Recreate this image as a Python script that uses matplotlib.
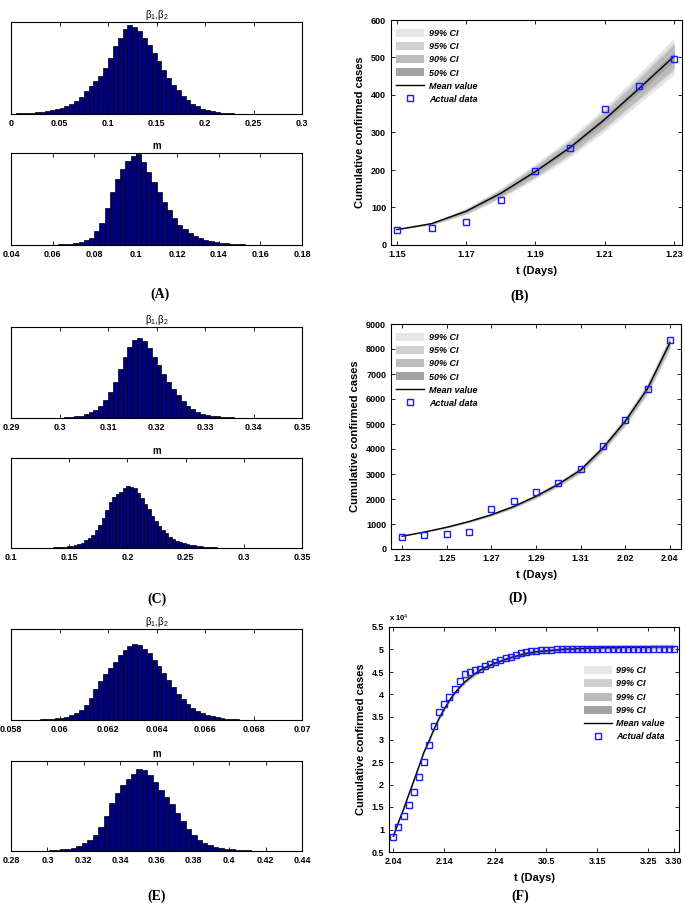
import numpy as np
import matplotlib
matplotlib.use("Agg")
import matplotlib.pyplot as plt
from matplotlib.patches import Patch
from matplotlib.lines import Line2D
from matplotlib.ticker import FormatStrFormatter

plt.rcParams['font.family'] = ['Liberation Sans', 'DejaVu Sans']
plt.rcParams['mathtext.fontset'] = 'custom'
plt.rcParams['mathtext.rm'] = 'Liberation Sans'
plt.rcParams['mathtext.it'] = 'Liberation Sans:italic'
plt.rcParams['mathtext.bf'] = 'Liberation Sans:bold'

# ---- posterior histograms (relative bin heights) ----
a_beta_range = (0.0, 0.24)
a_beta_counts = [0.5, 0.7, 0.9, 1.2, 1.5, 2, 2.5, 3.2, 4, 5,
                 6.5, 8.5, 11, 14, 19, 25, 31, 36, 42, 50,
                 62, 75, 84, 93, 98, 95, 91, 84, 76, 67,
                 58, 48, 39, 32, 26, 20, 15, 11, 8.5, 6,
                 4.5, 3.2, 2.3, 1.6, 1.1, 0.7, 0.5, 0.3]
a_m_range = (0.055, 0.165)
a_m_counts = [0.2, 0.3, 0.4, 0.6, 0.9, 1.5, 2.3, 3.5, 5.5, 8,
              15, 24, 40, 57, 71, 82, 90, 96, 98, 89,
              79, 68, 57, 46, 38, 29, 22, 17, 13, 10,
              7.5, 5.5, 4.2, 3.2, 2.4, 1.8, 1.3, 1, 0.7, 0.5,
              0.4, 0.3, 0.2, 0.1]
c_beta_range = (0.300, 0.340)
c_beta_counts = [0.5, 0.8, 1.2, 2, 3, 4.5, 7, 10, 15, 22,
                 32, 45, 60, 75, 88, 96, 99, 95, 86, 76,
                 65, 55, 45, 36, 28, 21, 15, 11, 8, 5.5,
                 4, 3, 2.2, 1.6, 1.2, 0.9, 0.6, 0.4, 0.3, 0.2]
c_m_range = (0.13, 0.289)
c_m_counts = [0.4, 0.6, 0.8, 1.1, 1.5, 2, 2.6, 3.4, 4.5, 6,
              8.5, 12, 16, 21, 28, 36, 47, 60, 72, 80,
              85, 89, 94, 98, 97, 94, 87, 79, 70, 61,
              51, 43, 35, 28, 23, 18, 14.5, 11.5, 9.5, 8,
              6.5, 5, 4, 3.2, 2.5, 2, 1.5, 1.2, 0.9, 0.7,
              0.5, 0.4, 0.3]
e_beta_range = (0.0588, 0.0684)
e_beta_counts = [0.3, 0.5, 0.7, 1, 1.5, 2.2, 3.2, 4.5, 6.5, 9,
                 13, 19, 28, 40, 50, 59, 67, 75, 84, 90,
                 95, 98, 97, 92, 86, 78, 70, 60, 51, 42,
                 34, 27, 21, 16, 12, 9, 6.5, 5, 3.5, 2.5,
                 1.8, 1.2, 0.8, 0.5, 0.4, 0.3, 0.2, 0.1]
e_m_range = (0.295, 0.424)
e_m_counts = [0.3, 0.5, 0.8, 1.2, 1.8, 2.6, 4, 6, 9, 13,
              19, 29, 42, 57, 70, 79, 86, 92, 98, 97,
              91, 82, 73, 65, 56, 46, 36, 26, 19, 13,
              9.5, 7, 5, 3.5, 2.5, 1.8, 1.2, 0.9, 0.6, 0.4,
              0.3, 0.2, 0.1]

# ---- fitted curves ----
ci_labels = ['99% CI', '95% CI', '90% CI', '50% CI']
ci_z = [2.576, 1.960, 1.645, 0.674]
ci_colors = ['#e6e6e6', '#d0d0d0', '#bbbbbb', '#a3a3a3']

b_dates = ['1.15', '1.16', '1.17', '1.18', '1.19', '1.20', '1.21', '1.22', '1.23']
b_actual = [41, 45, 62, 121, 198, 258, 363, 425, 495]
b_mean = [41, 57, 90, 138, 196, 260, 335, 418, 503]
b_sigma = [0, 1.5, 3.5, 5.5, 8, 10, 12.5, 15.5, 19]

d_dates = ['1.23', '1.24', '1.25', '1.26', '1.27', '1.28', '1.29', '1.30',
           '1.31', '2.01', '2.02', '2.03', '2.04']
d_actual = [495, 572, 618, 698, 1590, 1905, 2261, 2639, 3215, 4109, 5142, 6384, 8351]
d_mean = [510, 680, 870, 1100, 1370, 1700, 2110, 2590, 3160, 4040, 5110, 6420, 8250]
d_sigma = [3, 8, 13, 18, 24, 30, 38, 46, 55, 66, 78, 95, 115]

f_tick_days = [0, 10, 20, 30, 40, 50, 55]
f_tick_labels = ['2.04', '2.14', '2.24', '30.5', '3.15', '3.25', '3.30']
f_actual = [0.83, 1.05, 1.29, 1.55, 1.83, 2.16, 2.50, 2.88, 3.30, 3.61,
            3.79, 3.95, 4.12, 4.29, 4.45, 4.51, 4.54, 4.57, 4.63, 4.68,
            4.72, 4.76, 4.80, 4.84, 4.87, 4.93, 4.94, 4.96, 4.97, 4.98,
            4.99, 4.99, 5.00, 5.00, 5.00, 5.00, 5.00, 5.00, 5.00, 5.00,
            5.00, 5.00, 5.00, 5.00, 5.00, 5.00, 5.00, 5.00, 5.00, 5.00,
            5.00, 5.00, 5.00, 5.00, 5.00, 5.00]
f_mean = [0.85, 1.16, 1.45, 1.77, 2.08, 2.40, 2.72, 2.97, 3.24, 3.48,
          3.68, 3.87, 4.03, 4.16, 4.28, 4.37, 4.46, 4.54, 4.60, 4.65,
          4.70, 4.74, 4.78, 4.82, 4.85, 4.88, 4.91, 4.93, 4.95, 4.96,
          4.97, 4.98, 4.99, 5.00, 5.01, 5.01, 5.02, 5.02, 5.03, 5.03,
          5.03, 5.04, 5.04, 5.04, 5.04, 5.05, 5.05, 5.05, 5.05, 5.05,
          5.05, 5.06, 5.06, 5.06, 5.06, 5.06]
f_sigma = [0.005, 0.008, 0.010, 0.012, 0.013, 0.014, 0.015, 0.016, 0.017, 0.018,
           0.018, 0.019, 0.019, 0.020, 0.020, 0.020, 0.021, 0.021, 0.021, 0.021,
           0.021, 0.022, 0.022, 0.022, 0.022, 0.023, 0.023, 0.023, 0.023, 0.023,
           0.023, 0.024, 0.024, 0.024, 0.024, 0.024, 0.024, 0.024, 0.025, 0.025,
           0.025, 0.025, 0.025, 0.025, 0.025, 0.025, 0.025, 0.025, 0.025, 0.025,
           0.025, 0.025, 0.025, 0.025, 0.025, 0.025]

W, H = 685, 905
fig = plt.figure(figsize=(W / 100, H / 100), dpi=100)


def rect(x0, y0, x1, y1):
    return [x0 / W, 1 - y1 / H, (x1 - x0) / W, (y1 - y0) / H]


def bold_ticks(ax):
    for t in ax.get_xticklabels() + ax.get_yticklabels():
        t.set_fontweight('bold')


def hist_panel(box, counts, rng, xlim, xticks, title, peak_frac, title_bold):
    ax = fig.add_axes(rect(*box))
    edges = np.linspace(rng[0], rng[1], len(counts) + 1)
    ax.bar(edges[:-1], counts, width=np.diff(edges), align='edge',
           color='#000080', edgecolor='black', linewidth=0.5)
    ax.set_xlim(xlim)
    ax.set_ylim(0, max(counts) / peak_frac)
    ax.set_xticks(xticks)
    ax.xaxis.set_major_formatter(FormatStrFormatter('%g'))
    ax.set_yticks([])
    ax.tick_params(axis='x', direction='in', top=True, length=3, width=0.6,
                   labelsize=6.5, pad=3.5)
    for s in ax.spines.values():
        s.set_linewidth(0.8)
    ax.set_title(title, fontsize=7, pad=3, fontweight='bold' if title_bold else 'normal')
    bold_ticks(ax)
    return ax


beta_title = r'β$_1$,β$_2$'
hist_panel((11, 22, 302, 114), a_beta_counts, a_beta_range, (0, 0.3),
           np.arange(0, 0.301, 0.05), beta_title, 0.97, False)
hist_panel((11, 153, 302, 245), a_m_counts, a_m_range, (0.04, 0.18),
           np.arange(0.04, 0.1801, 0.02), 'm', 0.99, True)
hist_panel((11, 327, 302, 418), c_beta_counts, c_beta_range, (0.29, 0.35),
           np.arange(0.29, 0.3501, 0.01), beta_title, 0.88, False)
hist_panel((11, 458, 302, 548), c_m_counts, c_m_range, (0.1, 0.35),
           np.arange(0.1, 0.3501, 0.05), 'm', 0.69, True)
hist_panel((11, 629, 302, 720), e_beta_counts, e_beta_range, (0.058, 0.07),
           np.arange(0.058, 0.07001, 0.002), beta_title, 0.835, False)
hist_panel((11, 761, 302, 851), e_m_counts, e_m_range, (0.28, 0.44),
           np.arange(0.28, 0.4401, 0.02), 'm', 0.91, True)

legend_font = {'family': 'Liberation Sans', 'weight': 'bold', 'style': 'italic', 'size': 6.5}


def fit_panel(box, actual, mean, sigma, xlim, ylim, yticks, xticks, xticklabels,
              labels, legend_loc, legend_anchor):
    ax = fig.add_axes(rect(*box))
    x = np.arange(len(mean))
    mean = np.asarray(mean, dtype=float)
    sigma = np.asarray(sigma, dtype=float)
    for z, c in zip(ci_z, ci_colors):
        ax.fill_between(x, mean - z * sigma, mean + z * sigma, color=c, lw=0)
    ax.plot(x, mean, color='black', lw=1.0)
    ax.plot(x, actual, ls='none', marker='s', ms=4.2, mfc='none', mec='#1a1aff', mew=1.0)
    ax.set_xlim(xlim)
    ax.set_ylim(ylim)
    ax.set_yticks(yticks)
    ax.set_xticks(xticks)
    ax.set_xticklabels(xticklabels)
    ax.yaxis.set_major_formatter(FormatStrFormatter('%g'))
    ax.tick_params(direction='in', top=True, right=True, length=3, width=0.6,
                   labelsize=6.5, pad=3.5)
    for s in ax.spines.values():
        s.set_linewidth(0.8)
    bold_ticks(ax)
    ax.set_xlabel('t (Days)', fontsize=8, fontweight='bold', labelpad=5)
    ax.set_ylabel('Cumulative confirmed cases', fontsize=8, fontweight='bold', labelpad=4)
    handles = [Patch(facecolor=c, edgecolor='none') for c in ci_colors]
    handles += [Line2D([], [], color='black', lw=1.0),
                Line2D([], [], ls='none', marker='s', ms=4.2, mfc='none',
                       mec='#1a1aff', mew=1.0)]
    ax.legend(handles, labels + ['Mean value', 'Actual data'], loc=legend_loc,
              bbox_to_anchor=legend_anchor, frameon=False, prop=legend_font,
              handlelength=3.1, handleheight=1.0, labelspacing=0.45,
              handletextpad=0.5, borderaxespad=0.2)
    return ax


fit_panel((391, 20, 682, 245), b_actual, b_mean, b_sigma, (-0.17, 8.23), (0, 600),
          np.arange(0, 601, 100), [0, 2, 4, 6, 8], b_dates[::2], ci_labels,
          'upper left', (0.0, 0.985))
fit_panel((391, 324, 681, 549), d_actual, d_mean, d_sigma, (-0.5, 12.5), (0, 9000),
          np.arange(0, 9001, 1000), list(range(0, 13, 2)), d_dates[::2], ci_labels,
          'upper left', (0.0, 0.985))
axf = fit_panel((389, 627, 679, 852), f_actual, f_mean, f_sigma, (-0.85, 56), (0.5, 5.5),
                np.arange(0.5, 5.51, 0.5), f_tick_days, f_tick_labels, ['99% CI'] * 4,
                'upper right', (0.97, 0.85))
axf.text(0.0, 1.012, r'x 10$^{4}$', transform=axf.transAxes, ha='left', va='bottom',
         fontsize=5.5, fontweight='bold')

panel_font = {'family': 'Liberation Serif', 'weight': 'bold', 'size': 10}
for lab, px, py in [('(A)', 160, 294), ('(B)', 520, 296), ('(C)', 157, 599),
                    ('(D)', 518, 598), ('(E)', 157, 896), ('(F)', 520, 896)]:
    fig.text(px / W, 1 - py / H, lab, ha='center', va='center', **panel_font)

fig.savefig('out.png', dpi=100)
